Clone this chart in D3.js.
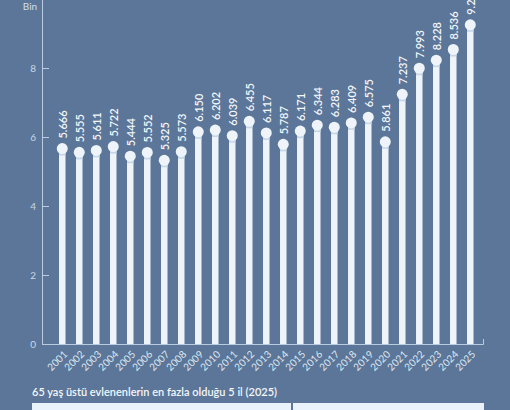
<!DOCTYPE html>
<html>
<head>
<meta charset="utf-8">
<script src="https://cdn.jsdelivr.net/npm/d3@7"></script>
<style>
  html, body { margin: 0; padding: 0; background: #5b7699; }
  svg { display: block; font-family: Lato, "Noto Sans", sans-serif; }
</style>
</head>
<body>
<div id="chart"></div>
<script>
const years = ["2001", "2002", "2003", "2004", "2005", "2006", "2007", "2008", "2009", "2010",
  "2011", "2012", "2013", "2014", "2015", "2016", "2017", "2018", "2019", "2020",
  "2021", "2022", "2023", "2024", "2025"];
const values = [5.666, 5.555, 5.611, 5.722, 5.444, 5.552, 5.325, 5.573, 6.150, 6.202,
  6.039, 6.455, 6.117, 5.787, 6.171, 6.344, 6.283, 6.409, 6.575, 5.861,
  7.237, 7.993, 8.228, 8.536, 9.252];
const yTicks = [0, 2, 4, 6, 8];
const unitLabel = "Bin";
const tableTitle = "65 yaş üstü evlenenlerin en fazla olduğu 5 il (2025)";

const width = 510;
const height = 410;
const margin = { top: -1, left: 42, right: 27, bottom: 66 };

const bg = "#5b7699";
const barColor = "#eef4fa";
const axisColor = "#b9cbe0";

const svg = d3.select("#chart")
  .append("svg")
  .attr("width", width)
  .attr("height", height);

svg.append("rect").attr("width", width).attr("height", height).attr("fill", bg);

const x = d3.scaleBand()
  .domain(years)
  .range([margin.left, width - margin.right])
  .paddingInner(0)
  .paddingOuter(0.47)
  .align(0.72);

const y = d3.scaleLinear()
  .domain([0, 10])
  .range([height - margin.bottom, margin.top]);

const cx = (d) => x(d) + x.bandwidth() / 2;

// y axis
const yAxis = svg.append("g")
  .attr("transform", `translate(${margin.left},0)`)
  .call(d3.axisLeft(y).tickValues(yTicks).tickSize(-7).tickSizeOuter(0).tickPadding(6));
yAxis.select(".domain").attr("stroke", axisColor);
yAxis.selectAll(".tick line").attr("stroke", axisColor);
yAxis.selectAll(".tick text")
  .attr("fill", "#c9d7e7")
  .attr("font-size", 10)
  .attr("font-family", "Lato, sans-serif");

// unit label, the line above it is cut by the top edge
svg.append("text")
  .attr("x", 30).attr("y", -2)
  .attr("text-anchor", "middle")
  .attr("fill", "#d3dfeb")
  .attr("font-size", 9)
  .text("Kişi");
svg.append("text")
  .attr("x", 30).attr("y", 10)
  .attr("text-anchor", "middle")
  .attr("fill", "#d3dfeb")
  .attr("font-size", 10)
  .text(unitLabel);

// bars
const data = years.map((yr, i) => ({ year: yr, value: values[i] }));

const bars = svg.append("g").attr("class", "bars")
  .selectAll("g")
  .data(data)
  .join("g");

bars.append("rect")
  .attr("x", (d) => cx(d.year) - 3)
  .attr("y", (d) => y(d.value))
  .attr("width", 6.5)
  .attr("height", (d) => y(0) - y(d.value))
  .attr("fill", barColor);

bars.append("rect")
  .attr("x", (d) => cx(d.year) - 3)
  .attr("y", (d) => y(d.value) + 4)
  .attr("width", 6.5)
  .attr("height", 3)
  .attr("fill", "#c7d6e6");

bars.append("circle")
  .attr("cx", (d) => cx(d.year) + 0.25)
  .attr("cy", (d) => y(d.value))
  .attr("r", 5.5)
  .attr("fill", barColor);

bars.append("text")
  .attr("transform", (d) => `translate(${cx(d.year) + 4.5},${y(d.value) - 10}) rotate(-90)`)
  .attr("fill", "#f4f7fb")
  .attr("font-size", 11)
  .attr("font-weight", 600)
  .text((d) => d3.format(".3f")(d.value));

// x axis
const xAxis = svg.append("g")
  .attr("transform", `translate(0,${y(0)})`)
  .call(d3.axisBottom(x).tickSize(0).tickSizeOuter(-5).tickPadding(0));
xAxis.select(".domain").attr("stroke", axisColor);
xAxis.selectAll(".tick text")
  .attr("fill", "#dfe8f2")
  .attr("font-size", 10)
  .attr("font-family", "Lato, sans-serif")
  .attr("text-anchor", "end")
  .attr("dy", null)
  .attr("transform", "translate(6,11) rotate(-45)");

// bottom table header
svg.append("text")
  .attr("x", 32).attr("y", 396)
  .attr("fill", "#f4f7fb")
  .attr("font-size", 11)
  .attr("font-weight", 600)
  .text(tableTitle);

svg.append("rect")
  .attr("x", 32).attr("y", 403)
  .attr("width", 259).attr("height", 10)
  .attr("fill", "#eaf3fb");
svg.append("rect")
  .attr("x", 293).attr("y", 403)
  .attr("width", 191).attr("height", 10)
  .attr("fill", "#eaf3fb");
</script>
</body>
</html>
